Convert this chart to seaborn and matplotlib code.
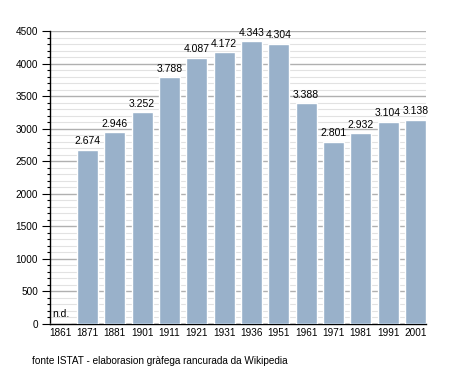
import matplotlib
matplotlib.use('Agg')
import matplotlib.pyplot as plt
import seaborn as sns
import pandas as pd
from matplotlib.ticker import MultipleLocator

# Census years and population
years = ['1861', '1871', '1881', '1901', '1911', '1921', '1931',
         '1936', '1951', '1961', '1971', '1981', '1991', '2001']
population = [0, 2674, 2946, 3252, 3788, 4087, 4172,
              4343, 4304, 3388, 2801, 2932, 3104, 3138]
labels = ['n.d.', '2.674', '2.946', '3.252', '3.788', '4.087', '4.172',
          '4.343', '4.304', '3.388', '2.801', '2.932', '3.104', '3.138']

df = pd.DataFrame({'year': years, 'pop': population})

sns.set_style('white')
plt.rcParams['font.family'] = ['Liberation Sans', 'DejaVu Sans']
plt.rcParams['text.color'] = 'black'
plt.rcParams['xtick.color'] = 'black'
plt.rcParams['ytick.color'] = 'black'

fig = plt.figure(figsize=(4.55, 3.73), dpi=100)
ax = fig.add_axes([50 / 455, 1 - 324 / 373, 376 / 455, 293 / 373])

sns.barplot(data=df, x='year', y='pop', color='#99b1ca', width=0.77,
            saturation=1, ax=ax, zorder=3)

ax.set_ylim(0, 4500)
ax.set_xlim(-0.366, len(years) - 1 + 0.385)
ax.yaxis.set_major_locator(MultipleLocator(500))
ax.yaxis.set_minor_locator(MultipleLocator(100))
ax.grid(which='major', axis='y', color='#b0b0b0', lw=1.0, zorder=0)
ax.grid(which='minor', axis='y', color='#e2e2e2', lw=0.8, zorder=0)
ax.set_axisbelow(True)

for s in ['top', 'right']:
    ax.spines[s].set_visible(False)
ax.spines['left'].set_color('black')
ax.spines['bottom'].set_color('black')
ax.spines['left'].set_linewidth(1.0)
ax.spines['bottom'].set_linewidth(1.0)

ax.tick_params(axis='y', which='major', length=6, width=0.8, labelsize=7.2, left=True, pad=2.5)
ax.tick_params(axis='y', which='minor', length=2.2, width=0.8, left=True)
ax.tick_params(axis='x', length=0, labelsize=7.2, pad=3)
ax.set_xlabel('')
ax.set_ylabel('')

for i, (v, t) in enumerate(zip(population, labels)):
    if v == 0:
        ax.text(i - 0.29, 100, t, ha='left', va='baseline', fontsize=7.5)
    else:
        ax.text(i, v + 85, t, ha='center', va='baseline', fontsize=7.5)

fig.text(32 / 455, 1 - 361 / 373, 'fonte ISTAT - elaborasion gràfega rancurada da Wikipedia',
         fontsize=7.2, va='center', ha='left')

fig.savefig('out.png', dpi=100)
